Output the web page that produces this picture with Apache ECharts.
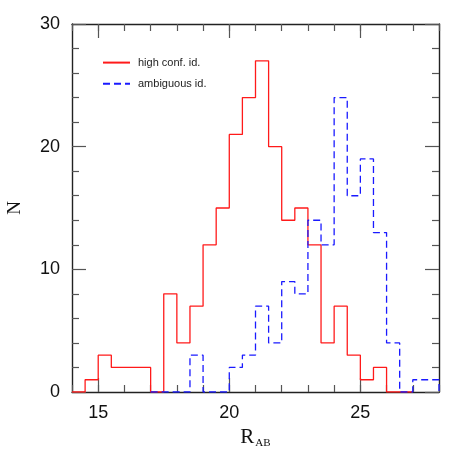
<!DOCTYPE html>
<html>
<head>
<meta charset="utf-8">
<script src="https://cdn.jsdelivr.net/npm/echarts@6/dist/echarts.min.js"></script>
<style>
  html, body { margin: 0; padding: 0; background: #fff; }
  #chart { width: 463px; height: 463px; }
</style>
</head>
<body>
<div id="chart"></div>
<script>
// histogram bins (width 0.5 mag)
const binWidth = 0.5
const highStart = 14.0
const highCounts = [0, 1, 3, 2, 2, 2, 0, 8, 4, 7, 12, 15, 21, 24, 27, 20, 14, 15, 12, 4, 7, 3, 1, 2, 0, 0]
const ambStart = 17.0
const ambCounts = [0, 0, 0, 3, 0, 0, 2, 3, 7, 4, 9, 8, 14, 12, 24, 16, 19, 13, 4, 0, 1, 1]
const xMajorTicks = [15, 20, 25]

// outline of a histogram as a stepped polyline
function stepOutline(start, counts) {
  const pts = [[start, 0]]
  counts.forEach((c, i) => {
    const lo = start + i * binWidth
    pts.push([lo, c], [lo + binWidth, c])
  })
  pts.push([start + counts.length * binWidth, 0])
  return pts
}

const chart = echarts.init(document.getElementById('chart'))
const frame = { show: true, lineStyle: { color: '#222', width: 1.4 } }
const tickStyle = { color: '#555', width: 1.2 }
const labelFont = { fontFamily: 'Liberation Sans', fontSize: 18, color: '#111' }

const xBase = { type: 'value', min: 14, max: 28, splitLine: { show: false } }

chart.setOption({
  animation: false,
  grid: { left: 72, top: 24, right: 24, bottom: 71, outerBoundsMode: 'none' },
  legend: {
    orient: 'vertical', left: 97, top: 52,
    itemWidth: 27, itemHeight: 14, itemGap: 10,
    itemStyle: { opacity: 0 },
    textStyle: { fontFamily: 'Liberation Sans', fontSize: 11, color: '#222', padding: [0, 0, 3, 3] },
    data: ['high conf. id.', 'ambiguous id.']
  },
  xAxis: [
    {
      ...xBase, position: 'bottom', interval: 1,
      axisLine: frame,
      axisTick: { inside: true, length: 7, lineStyle: tickStyle },
      axisLabel: { customValues: xMajorTicks, margin: 12, ...labelFont },
      name: '{r|R}{s|AB}', nameLocation: 'middle', nameGap: 34,
      nameTextStyle: {
        rich: {
          r: { fontFamily: 'Liberation Serif', fontSize: 21, color: '#111' },
          s: { fontFamily: 'Liberation Serif', fontSize: 11, color: '#111', verticalAlign: 'bottom', padding: [12, 0, 0, 1] }
        }
      }
    },
    {
      ...xBase, position: 'bottom',
      axisLine: { show: false },
      axisTick: { inside: true, length: 14, customValues: xMajorTicks, lineStyle: tickStyle },
      axisLabel: { show: false }
    },
    {
      ...xBase, position: 'top', interval: 1,
      axisLine: frame,
      axisTick: { inside: true, length: 7, lineStyle: tickStyle },
      axisLabel: { show: false }
    },
    {
      ...xBase, position: 'top',
      axisLine: { show: false },
      axisTick: { inside: true, length: 14, customValues: xMajorTicks, lineStyle: tickStyle },
      axisLabel: { show: false }
    }
  ],
  yAxis: [
    {
      type: 'value', min: 0, max: 30, interval: 10, position: 'left',
      axisLine: frame,
      axisTick: { inside: true, length: 14, lineStyle: tickStyle },
      minorTick: { show: true, splitNumber: 5, length: 7, lineStyle: tickStyle },
      splitLine: { show: false },
      axisLabel: { margin: 12, ...labelFont },
      name: 'N', nameLocation: 'middle', nameGap: 47, nameRotate: 90,
      nameTextStyle: { fontFamily: 'Liberation Serif', fontSize: 19, color: '#111' }
    },
    {
      type: 'value', min: 0, max: 30, interval: 10, position: 'right',
      axisLine: frame,
      axisTick: { inside: true, length: 14, lineStyle: tickStyle },
      minorTick: { show: true, splitNumber: 5, length: 7, lineStyle: tickStyle },
      splitLine: { show: false },
      axisLabel: { show: false }
    }
  ],
  series: [
    {
      name: 'high conf. id.', type: 'line', data: stepOutline(highStart, highCounts),
      symbol: 'none', lineStyle: { color: '#ff1a1a', width: 1.3 }, itemStyle: { color: '#ff1a1a' }
    },
    {
      name: 'ambiguous id.', type: 'line', data: stepOutline(ambStart, ambCounts),
      symbol: 'none', lineStyle: { color: '#1a1aff', width: 1.3, type: [7, 4] }, itemStyle: { color: '#1a1aff' }
    }
  ]
})
</script>
</body>
</html>
